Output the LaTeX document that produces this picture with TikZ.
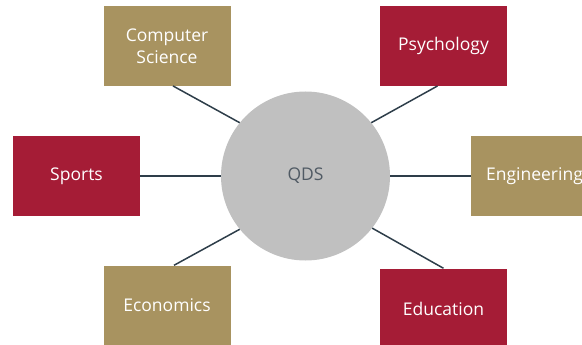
\documentclass[tikz,border=0pt]{standalone}
\usepackage{fontspec}
\setmainfont{Open Sans}
\definecolor{tan}{HTML}{A89360}
\definecolor{crim}{HTML}{A51C36}
\definecolor{linec}{HTML}{2E3E4A}
\definecolor{circ}{HTML}{C0C0C0}
\definecolor{qtxt}{HTML}{505A64}
\begin{document}
\begin{tikzpicture}[x=1pt,y=-1pt,
  box/.style={rectangle,minimum width=127pt,minimum height=79.5pt,inner sep=0pt,text=white,align=center,font=\fontsize{17.5}{22}\selectfont},
  tanbox/.style={box,fill=tan},
  redbox/.style={box,fill=crim},
  link/.style={draw=linec,line width=1.5pt}]
\useasboundingbox (0,0) rectangle (582,345);
\node[circle,fill=circ,minimum size=169pt,inner sep=0pt,text=qtxt,font=\fontsize{17.5}{22}\selectfont] (q) at (305.5,176) {QDS};
\node[tanbox] (cs) at (167,46) {Computer\\Science};
\node[redbox] (ps) at (443.5,46) {Psychology};
\node[redbox] (sp) at (76.5,176) {Sports};
\node[tanbox] (en) at (534.5,176) {Engineering};
\node[tanbox,minimum height=80pt] (ec) at (167,305.5) {Economics};
\node[redbox,minimum height=80pt] (ed) at (443.5,308.5) {Education};
\draw[link] ([xshift=6pt]cs.south) -- (q.141);
\draw[link] ([xshift=-6pt]ps.south) -- (q.39);
\draw[link] (sp.east) -- (q.west);
\draw[link] (q.east) -- (en.west);
\draw[link] ([xshift=7pt]ec.north) -- (q.219);
\draw[link] (ed.north) -- (q.322);
\end{tikzpicture}
\end{document}
